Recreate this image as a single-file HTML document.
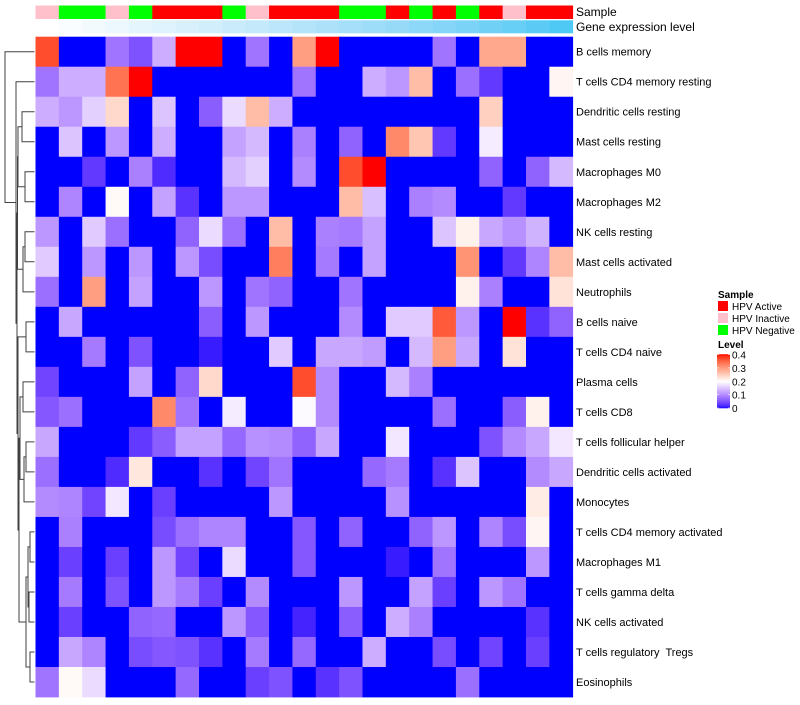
<!DOCTYPE html>
<html><head><meta charset="utf-8"><style>
body{margin:0;background:#fff;font-family:"Liberation Sans",sans-serif;}
svg text{font-family:"Liberation Sans",sans-serif;white-space:pre;}
</style></head><body>
<svg id="chart" width="800" height="700" xmlns="http://www.w3.org/2000/svg">
<g id="dendro"></g>
<g id="cells"></g>
<g id="annot"></g>
<g id="rowlabels"></g>
<text x="576" y="16" font-size="12">Sample</text>
<text x="576" y="31" font-size="12">Gene expression level</text>
<g id="legend">
<text x="718" y="298" font-size="10" font-weight="bold">Sample</text>
<rect x="718" y="301" width="10" height="10" fill="#ff0000"/>
<text x="732" y="310" font-size="10">HPV Active</text>
<rect x="718" y="313" width="10" height="10" fill="#ffc0cb"/>
<text x="732" y="322" font-size="10">HPV Inactive</text>
<rect x="718" y="325" width="10" height="10" fill="#00ff00"/>
<text x="732" y="334" font-size="10">HPV Negative</text>
<text x="718" y="348" font-size="10" font-weight="bold">Level</text>
<g id="colorbar"></g>
</g>
</svg>
<script>
const rowNames=["B cells memory","T cells CD4 memory resting","Dendritic cells resting","Mast cells resting","Macrophages M0","Macrophages M2","NK cells resting","Mast cells activated","Neutrophils","B cells naive","T cells CD4 naive","Plasma cells","T cells CD8","T cells follicular helper","Dendritic cells activated","Monocytes","T cells CD4 memory activated","Macrophages M1","T cells gamma delta","NK cells activated","T cells regulatory  Tregs","Eosinophils"];
const sampleGroups=["HPV Inactive","HPV Negative","HPV Negative","HPV Inactive","HPV Negative","HPV Active","HPV Active","HPV Active","HPV Negative","HPV Inactive","HPV Active","HPV Active","HPV Active","HPV Negative","HPV Negative","HPV Active","HPV Negative","HPV Active","HPV Negative","HPV Active","HPV Inactive","HPV Active","HPV Active"];
const geneLevel=[0,1,2,3,4,5,6,7,8,9,10,11,12,13,14,15,16,17,18,19,20,21,22];
const levelTicks=[0,0.1,0.2,0.3,0.4];
const values=[
[0.37,0,0,0.08,0.05,0.13,0.4,0.4,0,0.08,0,0.3,0.4,0,0,0,0,0.08,0,0.29,0.29,0,0],
[0.08,0.13,0.13,0.34,0.4,0,0,0,0,0,0,0.08,0,0,0.13,0.11,0.27,0,0.075,0.03,0,0,0.21],
[0.13,0.11,0.16,0.24,0,0.15,0,0.06,0.17,0.27,0.13,0,0,0,0,0,0,0,0,0.25,0,0,0],
[0,0.15,0,0.11,0,0.13,0,0,0.12,0.14,0,0.09,0,0.065,0,0.32,0.26,0.03,0,0.185,0,0,0],
[0,0,0.03,0,0.09,0.02,0,0,0.14,0.16,0,0.1,0,0.37,0.4,0,0,0,0,0.065,0,0.065,0.14],
[0,0.095,0,0.205,0,0.12,0.025,0,0.11,0.11,0,0,0,0.27,0.145,0,0.09,0.1,0,0,0.03,0,0],
[0.11,0,0.155,0.075,0,0,0.065,0.17,0.075,0,0.27,0,0.09,0.085,0.12,0,0,0.15,0.215,0.125,0.105,0.135,0],
[0.155,0,0.11,0,0.11,0,0.11,0.045,0,0,0.33,0,0.085,0,0.12,0,0,0,0.31,0,0.03,0.095,0.27],
[0.075,0,0.3,0,0.12,0,0,0.11,0,0.08,0.065,0,0,0.08,0,0,0,0,0.215,0.09,0,0,0.23],
[0,0.125,0,0,0,0,0,0.06,0,0.11,0,0,0,0.1,0,0.155,0.155,0.36,0.11,0,0.4,0.025,0.065],
[0,0,0.085,0,0.05,0,0,0.01,0,0,0.155,0,0.125,0.125,0.115,0,0.14,0.3,0.125,0,0.23,0,0],
[0.04,0,0,0,0.12,0,0.065,0.24,0,0,0,0.37,0.1,0,0,0.14,0.09,0,0,0,0,0,0],
[0.055,0.075,0,0,0,0.32,0.08,0,0.185,0,0,0.195,0.1,0,0,0,0,0.075,0,0,0.06,0.215,0],
[0.125,0,0,0,0.03,0.06,0.12,0.12,0.07,0.105,0.1,0.065,0.125,0,0,0.18,0,0,0,0.05,0.1,0.125,0.18],
[0.075,0,0,0.02,0.225,0,0,0.025,0,0.04,0.08,0,0,0,0.07,0.085,0,0.025,0.15,0,0,0.1,0.125],
[0.1,0.095,0.04,0.18,0,0.035,0,0,0,0,0.11,0,0,0,0,0.105,0,0,0,0,0,0.22,0],
[0,0.09,0,0,0,0.045,0.075,0.095,0.095,0,0,0.055,0,0.065,0,0,0.065,0.11,0,0.095,0.045,0.21,0],
[0,0.035,0,0.035,0,0.11,0.04,0,0.17,0,0,0.055,0,0,0,0.01,0,0.08,0,0,0,0.11,0],
[0,0.085,0,0.05,0,0.11,0.085,0.035,0,0.1,0,0,0,0.11,0,0,0.12,0.035,0,0.11,0.08,0,0],
[0,0.035,0,0,0.065,0.07,0,0,0.11,0.055,0,0.015,0,0.06,0,0.13,0.09,0,0,0,0,0.025,0],
[0,0.125,0.095,0,0.045,0.055,0.05,0.025,0,0.085,0,0.07,0,0,0.13,0,0,0.045,0,0.04,0,0.035,0],
[0.08,0.205,0.17,0,0,0,0.07,0,0,0.035,0.05,0,0.025,0.05,0,0,0,0,0.075,0,0,0,0]
];
const groupColors={"HPV Active":"#ff0000","HPV Inactive":"#ffc0cb","HPV Negative":"#00ff00"};
const NS="http://www.w3.org/2000/svg";
const X0=35.5,X1=572.7,Y0=36.7,Y1=697;
const nCol=values[0].length,nRow=values.length;
const cw=(X1-X0)/nCol,rh=(Y1-Y0)/nRow;
const xPos=c=>X0+c*cw, yPos=r=>Y0+r*rh;
function s2l(c){c/=255;return c<=0.04045?c/12.92:Math.pow((c+0.055)/1.055,2.4);}
function l2s(c){c=c<=0.0031308?12.92*c:1.055*Math.pow(c,1/2.4)-0.055;return Math.max(0,Math.min(255,Math.round(c*255)));}
function toLab(h){const r=s2l(parseInt(h.substr(1,2),16)),g=s2l(parseInt(h.substr(3,2),16)),b=s2l(parseInt(h.substr(5,2),16));
let x=(0.4124*r+0.3576*g+0.1805*b)/0.95047,y=0.2126*r+0.7152*g+0.0722*b,z=(0.0193*r+0.1192*g+0.9505*b)/1.08883;
const f=t=>t>0.008856?Math.cbrt(t):7.787*t+16/116;x=f(x);y=f(y);z=f(z);return[116*y-16,500*(x-y),200*(y-z)];}
function fromLab(L){let y=(L[0]+16)/116,x=L[1]/500+y,z=y-L[2]/200;const fi=t=>t*t*t>0.008856?t*t*t:(t-16/116)/7.787;
x=fi(x)*0.95047;y=fi(y);z=fi(z)*1.08883;
const r=3.2406*x-1.5372*y-0.4986*z,g=-0.9689*x+1.8758*y+0.0415*z,b=0.0557*x-0.2040*y+1.0570*z;
return"rgb("+l2s(r)+","+l2s(g)+","+l2s(b)+")";}
const LB=toLab("#0000ff"),LW=toLab("#ffffff"),LR=toLab("#ff0000");
function col(v){v=Math.max(0,Math.min(0.4,v));let a,b,t;if(v<0.2){a=LB;b=LW;t=v/0.2;}else{a=LW;b=LR;t=(v-0.2)/0.2;}
return fromLab([0,1,2].map(i=>a[i]+(b[i]-a[i])*t));}
const LC1=toLab("#ffffff"),LC2=toLab("#4ec9f5");
function gcol(v){const t=v/22;return fromLab([0,1,2].map(i=>LC1[i]+(LC2[i]-LC1[i])*t));}
function mk(tag,attrs,parent){const e=document.createElementNS(NS,tag);for(const k in attrs)e.setAttribute(k,attrs[k]);parent.appendChild(e);return e;}
const cells=document.getElementById('cells');
values.forEach((row,r)=>row.forEach((v,c)=>{
const e=mk('rect',{x:xPos(c),y:yPos(r),width:cw+0.4,height:rh+0.4,fill:col(v)},cells);


}));
const annot=document.getElementById('annot');
sampleGroups.forEach((g,c)=>{
const e=mk('rect',{x:xPos(c),y:5.5,width:cw+0.4,height:13.5,fill:groupColors[g]},annot);


});
geneLevel.forEach((g,c)=>{
const e=mk('rect',{x:xPos(c),y:20.3,width:cw+0.4,height:13,fill:gcol(g)},annot);


});
const rl=document.getElementById('rowlabels');
rowNames.forEach((n,r)=>{
const t=mk('text',{x:576,y:yPos(r)+rh/2+4,'font-size':11},rl);
t.textContent=n;


});
const cb=document.getElementById('colorbar');
const cbTop=354.5,cbBot=408,cbX=717;
const vScale=v=>cbBot-(v/0.4)*(cbBot-cbTop);
for(let i=0;i<60;i++){const v0=0.4*i/60,v1=0.4*(i+1)/60;
const e=mk('rect',{x:cbX,y:vScale(v1)-0.3,width:13,height:vScale(v0)-vScale(v1)+0.6,fill:col((v0+v1)/2)},cb);

}
levelTicks.forEach(v=>{
const y=vScale(v);
mk('line',{x1:cbX,x2:cbX+2,y1:y,y2:y,stroke:'#fff','stroke-width':0.6},cb);
mk('line',{x1:cbX+11,x2:cbX+13,y1:y,y2:y,stroke:'#fff','stroke-width':0.6},cb);
const t=mk('text',{x:cbX+15,y:y+4,'font-size':10},cb);
t.textContent=v===0?"0":String(v);


});
const dg=document.getElementById('dendro');
const leafX=34.5;
const yc=r=>yPos(r)+rh/2;
function L(i){return{x:leafX,y:yc(i)};}
function N(x,a,b){return{x:x,a:a,b:b,y:(a.y+b.y)/2};}
const nA=N(22,L(2),L(3)),nB=N(25,L(4),L(5)),nC=N(18,nA,nB);
const n67=N(25,L(6),L(7)),nD=N(23,n67,L(8));
const n910=N(26,L(9),L(10)),n1112=N(23,L(11),L(12));
const n1314=N(26,L(13),L(14)),nE=N(24,n1314,L(15)),nF=N(20,n1112,nE);
const n1617=N(30,L(16),L(17)),n1819=N(29,L(18),L(19)),nG=N(28,n1617,n1819);
const n2021=N(30,L(20),L(21)),nH=N(26,nG,n2021),nI=N(19,nF,nH),nJ=N(18,n910,nI);
const nK=N(17.5,nC,nD),nL=N(17,nK,nJ),nM=N(16,L(1),nL),root=N(5,L(0),nM);
function draw(n){if(!n.a)return;
const p=`M${n.a.x},${n.a.y}H${n.x}V${n.b.y}H${n.b.x}`;
const e=mk('path',{d:p,fill:'none',stroke:'#404040','stroke-width':1},dg);


draw(n.a);draw(n.b);}
draw(root);
</script>
</body></html>
